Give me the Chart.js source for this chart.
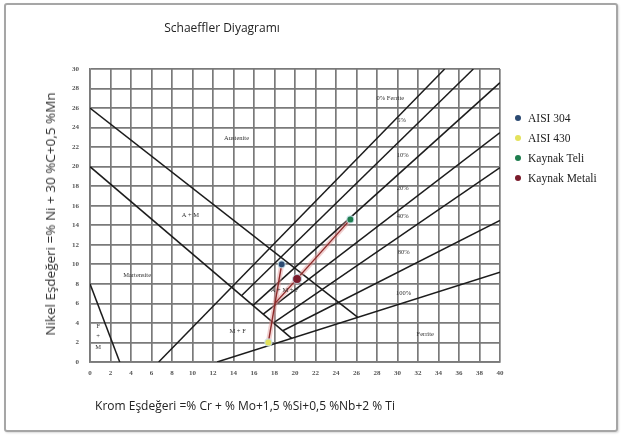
<!DOCTYPE html>
<html>
<head>
<meta charset="utf-8">
<script src="https://cdn.jsdelivr.net/npm/chart.js@4.4.1/dist/chart.umd.min.js"></script>
<style>
html,body{margin:0;padding:0;background:#fff;}
#wrap{position:relative;width:622px;height:437px;overflow:hidden;}
#frame{position:absolute;left:4px;top:3px;width:610px;height:425px;border:2px solid #a6a6a6;border-radius:3px;box-shadow:1px 1px 2px rgba(0,0,0,0.15);}
canvas{position:absolute;left:0;top:0;}
.t{position:absolute;white-space:nowrap;color:#222;transform:translate(-50%,-50%);}
#title{left:222px;top:27px;font:12px "Open Sans",sans-serif;}
#xtitle{left:245px;top:405px;font:12px "Open Sans",sans-serif;}
#ytitle{left:50px;top:214px;font:13.5px "Open Sans",sans-serif;color:#333;transform:translate(-50%,-50%) rotate(-90deg);}
#legend{position:absolute;left:515px;top:110px;font:11.5px "Liberation Serif",serif;color:#222;}
#legend div{height:20px;line-height:16px;}
#legend span{display:inline-block;width:6px;height:6px;border-radius:50%;margin-right:7px;vertical-align:1px;}
</style>
</head>
<body>
<div id="wrap">
  <div id="frame"></div>
  <canvas id="c" width="622" height="437"></canvas>
  <div class="t" id="title">Schaeffler Diyagramı</div>
  <div class="t" id="ytitle">Nikel Eşdeğeri =% Ni + 30 %C+0,5 %Mn</div>
  <div class="t" id="xtitle">Krom Eşdeğeri =% Cr + % Mo+1,5 %Si+0,5 %Nb+2 % Ti</div>
  <div id="legend"></div>
</div>
<script>
// axis ranges (Cr eq. / Ni eq.)
const xRange=[0,40];
const yRange=[0,30];
const tickStep=2;

// diagram boundaries, [Cr eq, Ni eq] end points
const austeniteLine=[[0,26],[26.1,4.6]];
const martensiteLine=[[0,20],[19.7,2.4]];
const fmLine=[[0,8],[2.9,0]];
const ferrite0=[[6.7,0],[34.6,30]];
const ferrite5=[[14.8,6.8],[37.4,30]];
const ferrite10=[[15.9,5.8],[40,28.6]];
const ferrite20=[[16.9,4.9],[40,23.5]];
const ferrite40=[[17.9,4.0],[40,19.9]];
const ferrite80=[[18.8,3.2],[40,14.5]];
const ferrite100=[[12.4,0],[40,9.2]];

// materials
const seriesNames=["AISI 304","AISI 430","Kaynak Teli","Kaynak Metali"];
const seriesColors=["#2b4a72","#e4e25c","#1e7d4e","#7a1b2b"];
const seriesX=[18.7,17.4,25.4,20.2];
const seriesY=[10.0,2.0,14.6,8.5];

// connecting (tie) lines
const baseTie=[[17.4,2.0],[18.7,10.0]];
const weldTie=[[18.05,6.0],[25.4,14.6]];

// region labels
const zoneText=["Austenite","A + M","Martensite","F","+","M","M + F","A + M + F","0% Ferrite","5%","10%","20%","40%","80%","100%","Ferrite"];
const zoneX=[14.3,9.8,4.6,0.8,0.8,0.8,14.4,19.0,29.3,30.4,30.5,30.5,30.5,30.6,30.6,32.7];
const zoneY=[22.9,15.0,8.9,3.7,2.6,1.5,3.1,7.3,27.0,24.7,21.2,17.8,14.9,11.2,7.0,2.8];

function pts(arr){return arr.map(p=>({x:p[0],y:p[1]}));}
function boundary(arr){
  return {data:pts(arr),showLine:true,pointRadius:0,borderColor:"#1c1c1c",borderWidth:1.5,order:3};
}

const datasets=[];
seriesNames.forEach((n,i)=>{
  datasets.push({label:n,data:[{x:seriesX[i],y:seriesY[i]}],pointRadius:i==3?4.5:3.5,
    pointBackgroundColor:seriesColors[i],pointBorderColor:"rgba(200,225,235,0.8)",pointBorderWidth:1.2,order:0});
});
[baseTie,weldTie].forEach(t=>{
  datasets.push({data:pts(t),showLine:true,pointRadius:0,borderColor:"rgba(225,150,150,0.45)",borderWidth:5,order:2});
  datasets.push({data:pts(t),showLine:true,pointRadius:0,borderColor:"#8e2a2a",borderWidth:1.4,order:1});
});
[austeniteLine,martensiteLine,fmLine,ferrite0,ferrite5,ferrite10,ferrite20,ferrite40,ferrite80,ferrite100]
  .forEach(l=>datasets.push(boundary(l)));

const zoneLabels={
  id:"zoneLabels",
  afterDatasetsDraw(chart){
    const ctx=chart.ctx,sx=chart.scales.x,sy=chart.scales.y;
    ctx.save();
    ctx.font='6.5px "Liberation Serif"';
    ctx.fillStyle="#333";
    ctx.textAlign="center";ctx.textBaseline="middle";
    zoneText.forEach((t,i)=>ctx.fillText(t,sx.getPixelForValue(zoneX[i]),sy.getPixelForValue(zoneY[i])));
    ctx.restore();
  }
};

const gridOpts={color:"#7a7a7a",lineWidth:1.7,drawTicks:false};
const tickFont={family:"Liberation Serif",size:7,weight:"bold"};

const chart=new Chart(document.getElementById("c"),{
  type:"scatter",
  data:{datasets},
  options:{
    responsive:false,animation:false,
    layout:{padding:{top:69,right:122,left:0,bottom:0}},
    plugins:{legend:{display:false},tooltip:{enabled:false},title:{display:false}},
    scales:{
      x:{min:xRange[0],max:xRange[1],grid:gridOpts,border:{color:"#7a7a7a",width:1.7},
        ticks:{stepSize:tickStep,font:tickFont,color:"#555",padding:7,maxRotation:0},
        afterFit(s){s.height=75;}},
      y:{min:yRange[0],max:yRange[1],grid:gridOpts,border:{color:"#7a7a7a",width:1.7},
        ticks:{stepSize:tickStep,font:tickFont,color:"#555",padding:11},
        afterFit(s){s.width=90;}}
    }
  },
  plugins:[zoneLabels]
});

// legend from the material datasets
const lg=document.getElementById("legend");
chart.data.datasets.slice(0,seriesNames.length).forEach(d=>{
  const row=document.createElement("div");
  row.innerHTML=`<span style="background:${d.pointBackgroundColor}"></span>${d.label}`;
  lg.appendChild(row);
});
</script>
</body>
</html>
